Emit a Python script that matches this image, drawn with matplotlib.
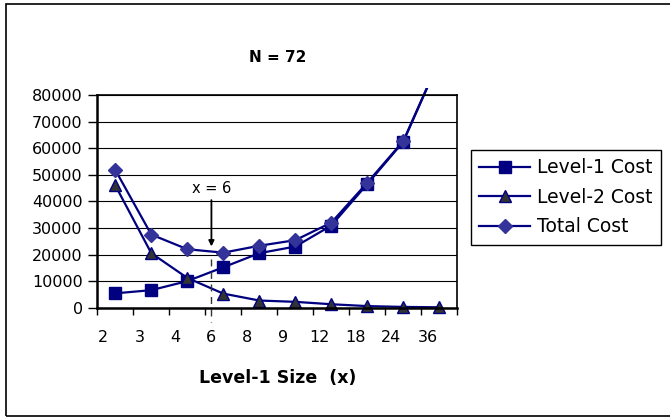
# ====================================
# N = 72 COST CHART
# ====================================

import numpy as np
import matplotlib
matplotlib.use("Agg")
import matplotlib.pyplot as plt
from matplotlib.patches import Rectangle

# ====================================
# DATA
# ====================================

sizes = ["2", "3", "4", "6", "8", "9", "12", "18", "24", "36"]

level1_cost = [5400, 6600, 10000, 15200, 20500, 23000, 30900, 46500, 62400, 93000]
level2_cost = [46000, 20500, 11200, 5300, 2700, 2200, 1300, 600, 300, 150]
total_cost = [51800, 27500, 22000, 20700, 23300, 25400, 32000, 47000, 62700, 93200]

y_ticks = np.arange(0, 80001, 10000)

# ====================================
# FIGURE
# ====================================

fig = plt.figure(figsize=(6.70, 4.17), dpi=100)

# outer chart border (right side runs off the picture)
fig.patches.append(
    Rectangle(
        (6 / 670, 1 / 417), 1.0, 412 / 417,
        transform=fig.transFigure,
        fill=False, edgecolor="black", linewidth=1.2
    )
)

ax = fig.add_axes([97.3 / 670, 1 - 307.7 / 417, 360 / 670, 212.7 / 417])

navy = "#000080"

# category positions: points sit in the middle of each slot
x = np.arange(len(sizes)) + 0.5

# let lines run a little past the top of the plot area
clip = Rectangle((0, -0.1), 1, 1.135, transform=ax.transAxes)

l1, = ax.plot(
    x, level1_cost,
    color=navy, linewidth=1.6,
    marker="s", markersize=8,
    markerfacecolor=navy, markeredgecolor=navy,
    label="Level-1 Cost"
)

l2, = ax.plot(
    x, level2_cost,
    color=navy, linewidth=1.6,
    marker="^", markersize=8,
    markerfacecolor="#333333", markeredgecolor=navy,
    label="Level-2 Cost"
)

lt, = ax.plot(
    x, total_cost,
    color=navy, linewidth=1.6,
    marker="D", markersize=7,
    markerfacecolor="#333399", markeredgecolor="#333399",
    label="Total Cost"
)

for line in (l1, l2, lt):
    line.set_clip_path(clip)

# ====================================
# AXES
# ====================================

ax.set_xlim(0, len(sizes))
ax.set_ylim(0, 80000)

ax.set_yticks(y_ticks)
ax.set_yticklabels([str(v) for v in y_ticks], fontsize=11.5)

ax.set_xticks(np.arange(len(sizes) + 1))
ax.set_xticklabels([])

label_pos = np.arange(len(sizes)) + 0.17
ax.set_xticks(label_pos, minor=True)
ax.set_xticklabels(sizes, minor=True, fontsize=11.5)

ax.tick_params(axis="x", which="major", direction="out", length=5, width=1)
ax.tick_params(axis="x", which="minor", length=0, pad=16)
ax.tick_params(axis="y", direction="out", length=6.5, width=1, pad=4)

ax.grid(axis="y", color="black", linewidth=0.8)
ax.set_axisbelow(True)

for side in ["left", "bottom"]:
    ax.spines[side].set_linewidth(1.8)
for side in ["top", "right"]:
    ax.spines[side].set_linewidth(1.2)

ax.set_title("N = 72", fontsize=11, fontweight="bold", pad=24)

ax.set_xlabel("Level-1 Size  (x)", fontsize=12.5, fontweight="bold", labelpad=17)

# ====================================
# OPTIMUM MARKER (x = 6)
# ====================================

x6 = label_pos[sizes.index("6")]

ax.plot(
    [x6, x6], [18500, -5500],
    color="#333333", linewidth=1,
    linestyle=(0, (5, 4)), clip_on=False
)

ax.annotate(
    "",
    xy=(x6, 22000),
    xytext=(x6, 41500),
    arrowprops=dict(arrowstyle="-|>", color="black", linewidth=1.3, mutation_scale=8)
)

ax.text(x6, 45000, "x = 6", fontsize=10.5, ha="center", va="center")

# ====================================
# LEGEND
# ====================================

leg = fig.legend(
    handles=[l1, l2, lt],
    loc="upper left",
    bbox_to_anchor=(471 / 670, 1 - 150 / 417),
    bbox_transform=fig.transFigure,
    fontsize=13.5,
    frameon=True,
    fancybox=False,
    framealpha=1,
    borderaxespad=0,
    borderpad=0.45,
    handlelength=2.7,
    handletextpad=0.35,
    labelspacing=0.55
)

leg.get_frame().set_edgecolor("black")
leg.get_frame().set_linewidth(1)

fig.savefig("out.png", dpi=100)
